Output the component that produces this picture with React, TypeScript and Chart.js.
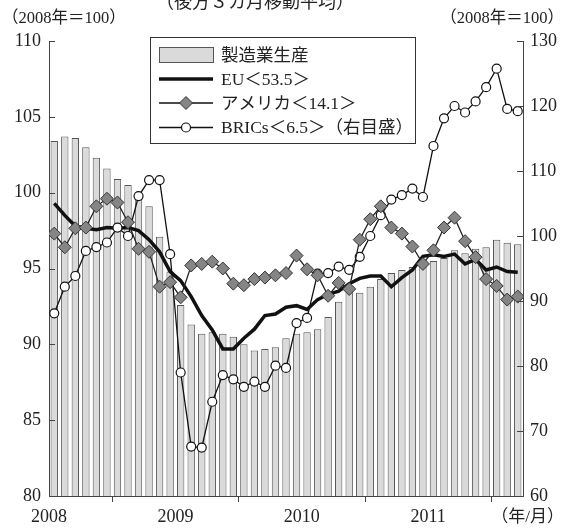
import React, { useEffect, useRef } from 'react';
import { Chart, registerables } from 'chart.js';

Chart.register(...registerables);

const MONTHS = [
  '2008/1', '2008/2', '2008/3', '2008/4', '2008/5', '2008/6', '2008/7', '2008/8', '2008/9', '2008/10', '2008/11', '2008/12',
  '2009/1', '2009/2', '2009/3', '2009/4', '2009/5', '2009/6', '2009/7', '2009/8', '2009/9', '2009/10', '2009/11', '2009/12',
  '2010/1', '2010/2', '2010/3', '2010/4', '2010/5', '2010/6', '2010/7', '2010/8', '2010/9', '2010/10', '2010/11', '2010/12',
  '2011/1', '2011/2', '2011/3', '2011/4', '2011/5', '2011/6', '2011/7', '2011/8', '2011/9',
];

const MANUFACTURING = [
  103.4, 103.7, 103.6, 103.0, 102.3, 101.6, 100.9, 100.5, 100.0, 99.1, 97.1, 94.8,
  92.6, 91.3, 90.7, 90.8, 90.7, 90.5, 90.0, 89.6, 89.7, 89.8, 90.4, 90.7,
  90.8, 91.0, 91.8, 92.8, 93.55, 93.4, 93.8, 94.3, 94.7, 94.9, 95.1, 95.3,
  95.5, 95.7, 96.2, 96.0, 96.3, 96.4, 96.9, 96.7, 96.6,
];

const EU = [
  99.3, 98.5, 97.8, 97.65, 97.55, 97.7, 97.65, 97.7, 97.5, 96.9, 96.1, 94.8,
  94.2, 93.15, 91.9, 90.95, 89.7, 89.7, 90.4, 91.0, 91.9, 92.0, 92.45, 92.55,
  92.3, 92.95, 93.3, 93.5, 94.0, 94.35, 94.5, 94.5, 93.8, 94.4, 94.9, 95.8,
  95.9, 95.8, 95.95, 95.3, 95.6, 94.9, 95.1, 94.8, 94.75,
];

const USA = [
  97.3, 96.4, 97.65, 97.7, 99.1, 99.6, 99.35, 98.05, 96.3, 96.1, 93.8, 94.1,
  93.1, 95.2, 95.3, 95.45, 95.0, 94.0, 93.9, 94.3, 94.4, 94.55, 94.7, 95.85,
  94.95, 94.55, 93.2, 94.05, 93.65, 96.9, 98.25, 99.1, 97.7, 97.3, 96.45, 95.3,
  96.2, 97.7, 98.35, 96.8, 95.75, 94.3, 93.85, 92.95, 93.15,
];

const BRICS = [
  88.1, 92.2, 93.85, 97.7, 98.3, 99.0, 101.3, 100.0, 106.15, 108.6, 108.6, 97.2,
  79.0, 67.6, 67.45, 74.5, 78.6, 77.95, 76.8, 77.6, 76.8, 80.05, 79.7, 86.6,
  87.4, 94.2, 94.3, 95.3, 94.8, 96.8, 100.0, 103.2, 105.6, 106.3, 107.3, 106.0,
  113.85, 118.1, 120.0, 119.0, 120.7, 122.9, 125.75, 119.55, 119.2,
];

const YEAR_LABELS = ['2008', '2009', '2010', '2011'];
const YEAR_START = ['2008/1', '2009/1', '2010/1', '2011/1'];

const LEGEND_LABELS = ['製造業生産', 'EU＜53.5＞', 'アメリカ＜14.1＞', 'BRICs＜6.5＞（右目盛）'];
const TITLE = '（後方３カ月移動平均）';
const LEFT_UNIT = '（2008年＝100）';
const RIGHT_UNIT = '（2008年＝100）';
const X_UNIT = '（年/月）';

const FONT = '"Liberation Serif", "Noto Sans CJK JP", serif';
const TEXT = '#222';
const AXIS = '#444';

const toXY = (arr: number[]) => arr.map((v, i) => ({ x: i, y: v }));

export default function App() {
  const ref = useRef<HTMLCanvasElement | null>(null);

  useEffect(() => {
    if (!ref.current) return;
    const yearTicks = YEAR_START.map((m) => MONTHS.indexOf(m) - 0.5);

    const decor = {
      id: 'decor',
      afterDatasetsDraw(chart: any) {
        const ctx = chart.ctx;
        const a = chart.chartArea;
        ctx.save();
        ctx.strokeStyle = AXIS;
        ctx.lineWidth = 1;
        const yl = chart.scales.y;
        yl.ticks.forEach((t: any) => {
          const py = Math.round(yl.getPixelForValue(t.value)) + 0.5;
          ctx.beginPath();
          ctx.moveTo(a.left, py);
          ctx.lineTo(a.left + 6, py);
          ctx.stroke();
        });
        const yr = chart.scales.y2;
        yr.ticks.forEach((t: any) => {
          const py = Math.round(yr.getPixelForValue(t.value)) + 0.5;
          ctx.beginPath();
          ctx.moveTo(a.right - 6, py);
          ctx.lineTo(a.right, py);
          ctx.stroke();
        });
        ctx.restore();
      },
      afterDraw(chart: any) {
        const ctx = chart.ctx;
        ctx.save();
        ctx.fillStyle = TEXT;
        ctx.font = '18px "Noto Sans CJK JP"';
        ctx.textAlign = 'center';
        ctx.textBaseline = 'middle';
        ctx.fillText(TITLE, 255, 1);
        ctx.font = '16.5px ' + FONT;
        ctx.textAlign = 'left';
        ctx.fillText(LEFT_UNIT, 2, 19);
        ctx.textAlign = 'right';
        ctx.fillText(RIGHT_UNIT, 564, 19);
        ctx.font = '17px ' + FONT;
        ctx.fillText(X_UNIT, 564, 518);

        const bx = 150.5, by = 37.5, bw = 265, bh = 106;
        ctx.fillStyle = '#fff';
        ctx.fillRect(bx, by, bw, bh);
        ctx.strokeStyle = '#333';
        ctx.lineWidth = 1;
        ctx.strokeRect(bx, by, bw, bh);
        const rows = [55, 79, 103, 127.5];
        const sx0 = 159, sx1 = 213, mid = 186;
        ctx.fillStyle = '#dadada';
        ctx.fillRect(sx0 + 0.5, rows[0] - 7.5, sx1 - sx0, 15);
        ctx.strokeStyle = '#555';
        ctx.strokeRect(sx0 + 0.5, rows[0] - 7.5, sx1 - sx0, 15);
        ctx.strokeStyle = '#111';
        ctx.lineWidth = 3.5;
        ctx.beginPath();
        ctx.moveTo(sx0, rows[1]);
        ctx.lineTo(sx1, rows[1]);
        ctx.stroke();
        ctx.lineWidth = 1.3;
        ctx.beginPath();
        ctx.moveTo(sx0, rows[2]);
        ctx.lineTo(sx1, rows[2]);
        ctx.stroke();
        const r = 6.5;
        ctx.beginPath();
        ctx.moveTo(mid, rows[2] - r);
        ctx.lineTo(mid + r, rows[2]);
        ctx.lineTo(mid, rows[2] + r);
        ctx.lineTo(mid - r, rows[2]);
        ctx.closePath();
        ctx.fillStyle = '#858585';
        ctx.fill();
        ctx.strokeStyle = '#333';
        ctx.lineWidth = 1;
        ctx.stroke();
        ctx.strokeStyle = '#111';
        ctx.lineWidth = 1.3;
        ctx.beginPath();
        ctx.moveTo(sx0, rows[3]);
        ctx.lineTo(sx1, rows[3]);
        ctx.stroke();
        ctx.beginPath();
        ctx.arc(mid, rows[3], 4.5, 0, Math.PI * 2);
        ctx.fillStyle = '#fff';
        ctx.fill();
        ctx.lineWidth = 1.2;
        ctx.stroke();
        ctx.fillStyle = TEXT;
        ctx.font = '17.5px ' + FONT;
        ctx.textAlign = 'left';
        ctx.textBaseline = 'middle';
        LEGEND_LABELS.forEach((t, i) => ctx.fillText(t, 221, rows[i] + 1));
        ctx.restore();
      },
    };

    const chart = new Chart(ref.current, {
      type: 'bar',
      data: {
        datasets: [
          {
            type: 'line',
            label: LEGEND_LABELS[2],
            data: toXY(USA),
            yAxisID: 'y',
            borderColor: '#222',
            borderWidth: 1.3,
            pointStyle: 'rectRot',
            pointRadius: 6.5,
            pointBackgroundColor: '#858585',
            pointBorderColor: '#333',
            pointBorderWidth: 1,
            tension: 0,
            order: 1,
          },
          {
            type: 'line',
            label: LEGEND_LABELS[3],
            data: toXY(BRICS),
            yAxisID: 'y2',
            borderColor: '#111',
            borderWidth: 1.3,
            pointStyle: 'circle',
            pointRadius: 4.5,
            pointBackgroundColor: '#fff',
            pointBorderColor: '#111',
            pointBorderWidth: 1.2,
            tension: 0,
            order: 2,
          },
          {
            type: 'line',
            label: LEGEND_LABELS[1],
            data: toXY(EU),
            yAxisID: 'y',
            borderColor: '#111',
            borderWidth: 3.5,
            pointRadius: 0,
            tension: 0,
            order: 3,
          },
          {
            type: 'bar',
            label: LEGEND_LABELS[0],
            data: toXY(MANUFACTURING),
            yAxisID: 'y',
            backgroundColor: '#dadada',
            borderColor: '#555',
            borderWidth: 1,
            barPercentage: 0.7,
            categoryPercentage: 1,
            order: 4,
          },
        ],
      } as any,
      options: {
        responsive: false,
        animation: false,
        devicePixelRatio: 1,
        layout: { padding: { top: 41, left: 0, right: 0, bottom: 0 } },
        plugins: {
          legend: { display: false },
          tooltip: { enabled: false },
          title: { display: false },
        },
        scales: {
          x: {
            type: 'linear',
            min: -0.5,
            max: MONTHS.length - 0.5,
            offset: false,
            afterBuildTicks: (s: any) => {
              s.ticks = yearTicks.map((v) => ({ value: v }));
            },
            afterFit: (s: any) => {
              s.height = 34;
            },
            grid: { drawOnChartArea: false, drawTicks: true, tickLength: 6, color: AXIS, lineWidth: 1 },
            border: { display: true, color: AXIS, width: 1 },
            ticks: {
              autoSkip: false,
              maxRotation: 0,
              padding: 4,
              color: TEXT,
              font: { family: FONT, size: 18 },
              callback: (v: any) => {
                const idx = yearTicks.indexOf(Number(v));
                return idx >= 0 ? YEAR_LABELS[idx] : '';
              },
            },
          },
          y: {
            type: 'linear',
            position: 'left',
            min: 80,
            max: 110,
            afterFit: (s: any) => {
              s.width = 49;
            },
            grid: { drawOnChartArea: false, drawTicks: false },
            border: { display: true, color: AXIS, width: 1 },
            ticks: { stepSize: 5, padding: 8, color: TEXT, font: { family: FONT, size: 18 } },
          },
          y2: {
            type: 'linear',
            position: 'right',
            min: 60,
            max: 130,
            afterFit: (s: any) => {
              s.width = 43;
            },
            grid: { drawOnChartArea: false, drawTicks: false },
            border: { display: true, color: AXIS, width: 1 },
            ticks: { stepSize: 10, padding: 7, color: TEXT, font: { family: FONT, size: 18 } },
          },
        },
      } as any,
      plugins: [decor],
    });
    return () => chart.destroy();
  }, []);

  return (
    <div style={{ position: 'absolute', left: 0, top: 0, width: 566, height: 530, background: '#fff' }}>
      <canvas ref={ref} width={566} height={530} style={{ display: 'block' }} />
    </div>
  );
}
